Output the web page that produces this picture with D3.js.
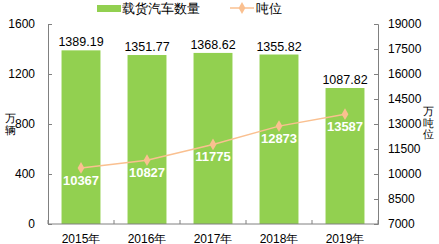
<!DOCTYPE html>
<html>
<head>
<meta charset="utf-8">
<script src="https://cdn.jsdelivr.net/npm/d3@7"></script>
<style>
  body { margin: 0; background: #fff; overflow: hidden; }
  svg { display: block; }
  text { font-family: "Liberation Sans", Arial, sans-serif; }
</style>
</head>
<body>
<div id="viz"></div>
<script>
const years = ["2015年", "2016年", "2017年", "2018年", "2019年"];
const trucks = [1389.19, 1351.77, 1368.62, 1355.82, 1087.82];
const tonnage = [10367, 10827, 11775, 12873, 13587];
const leftTicks = [0, 400, 800, 1200, 1600];
const rightTicks = [7000, 8500, 10000, 11500, 13000, 14500, 16000, 17500, 19000];

const width = 439;
const height = 244;
const svg = d3.select("#viz")
    .append("svg")
    .attr("width", width)
    .attr("height", height);

const margin = {top: 24, right: 61, left: 48, bottom: 20};
const innerWidth = width - margin.left - margin.right;
const innerHeight = height - margin.top - margin.bottom;
const green = "#92D050";
const orange = "#FAC090";

const xScale = d3.scaleBand()
    .domain(years)
    .range([0, innerWidth])
    .paddingInner(0.41)
    .paddingOuter(0.205);

const xCat = d3.scaleBand().domain(years).range([0, innerWidth]);

const yLeft = d3.scaleLinear().domain([0, 1600]).range([innerHeight, 0]);
const yRight = d3.scaleLinear().domain([7000, 19000]).range([innerHeight, 0]);

const g = svg.append("g")
    .attr("transform", `translate(${margin.left}, ${margin.top})`);

// bars
g.selectAll("rect.bar").data(trucks)
    .enter().append("rect")
        .attr("class", "bar")
        .attr("x", (d, i) => xScale(years[i]))
        .attr("y", d => yLeft(d))
        .attr("width", xScale.bandwidth())
        .attr("height", d => innerHeight - yLeft(d))
        .attr("fill", green);

g.selectAll("text.barlabel").data(trucks)
    .enter().append("text")
        .attr("class", "barlabel")
        .attr("x", (d, i) => xScale(years[i]) + xScale.bandwidth() / 2)
        .attr("y", d => yLeft(d) - 4)
        .attr("text-anchor", "middle")
        .attr("font-size", 12.5)
        .attr("fill", "#000")
        .text(d => d.toFixed(2));

// axes (ticks point inward, like the original)
const leftAxis = d3.axisLeft(yLeft).tickValues(leftTicks)
    .tickFormat(d3.format("d")).tickSize(-4).tickPadding(13);
const lAxisG = g.append("g").call(leftAxis);

const rightAxis = d3.axisRight(yRight).tickValues(rightTicks)
    .tickFormat(d3.format("d")).tickSize(-4).tickPadding(10);
const rAxisG = g.append("g")
    .attr("transform", `translate(${innerWidth}, 0)`)
    .call(rightAxis);

const xAxisG = g.append("g")
    .attr("transform", `translate(0, ${innerHeight})`);
xAxisG.append("line")
    .attr("x1", 0).attr("x2", innerWidth)
    .attr("stroke", "#808080");
xAxisG.selectAll("line.tick").data(d3.range(years.length + 1))
    .enter().append("line")
        .attr("x1", i => i * xCat.step())
        .attr("x2", i => i * xCat.step())
        .attr("y1", 0).attr("y2", -4)
        .attr("stroke", "#808080");
xAxisG.selectAll("text").data(years)
    .enter().append("text")
        .attr("x", d => xCat(d) + xCat.bandwidth() / 2)
        .attr("y", 18.5)
        .attr("text-anchor", "middle")
        .attr("font-size", 12)
        .attr("fill", "#000")
        .text(d => d);

[lAxisG, rAxisG].forEach(a => {
    a.select(".domain").attr("stroke", "#808080");
    a.selectAll(".tick line").attr("stroke", "#808080");
    a.selectAll(".tick text")
        .attr("font-size", 12)
        .attr("fill", "#000")
        .style("font-family", "'Liberation Sans', Arial, sans-serif");
});

// line
const cx = i => xCat(years[i]) + xCat.bandwidth() / 2;
const line = d3.line()
    .x((d, i) => cx(i))
    .y(d => yRight(d));

g.append("path")
    .datum(tonnage)
    .attr("d", line)
    .attr("fill", "none")
    .attr("stroke", orange)
    .attr("stroke-width", 1.5);

const diamond = d3.symbol().type(d3.symbolDiamond).size(40);
g.selectAll("path.pt").data(tonnage)
    .enter().append("path")
        .attr("class", "pt")
        .attr("d", diamond)
        .attr("transform", (d, i) => `translate(${cx(i)}, ${yRight(d)})`)
        .attr("fill", orange);

g.selectAll("text.linelabel").data(tonnage)
    .enter().append("text")
        .attr("class", "linelabel")
        .attr("x", (d, i) => cx(i))
        .attr("y", d => yRight(d) + 17)
        .attr("text-anchor", "middle")
        .attr("font-size", 13)
        .attr("font-weight", "bold")
        .attr("fill", "#fff")
        .text(d => d);

// axis titles
["万", "辆"].forEach((t, i) => {
    svg.append("text")
        .attr("x", 10).attr("y", 122 + i * 11.5)
        .attr("text-anchor", "middle")
        .attr("font-size", 11)
        .text(t);
});
["万", "吨", "位"].forEach((t, i) => {
    svg.append("text")
        .attr("x", 428).attr("y", 115 + i * 11.5)
        .attr("text-anchor", "middle")
        .attr("font-size", 11)
        .text(t);
});

// legend
const legend = svg.append("g");
legend.append("rect")
    .attr("x", 97).attr("y", 5)
    .attr("width", 24).attr("height", 7)
    .attr("fill", green);
legend.append("text")
    .attr("x", 122).attr("y", 13)
    .attr("font-size", 12.5)
    .text("载货汽车数量");
legend.append("line")
    .attr("x1", 230).attr("x2", 254)
    .attr("y1", 8).attr("y2", 8)
    .attr("stroke", orange)
    .attr("stroke-width", 1.5);
legend.append("path")
    .attr("d", diamond)
    .attr("transform", "translate(242, 8)")
    .attr("fill", orange);
legend.append("text")
    .attr("x", 256).attr("y", 13)
    .attr("font-size", 12.5)
    .text("吨位");
</script>
</body>
</html>
